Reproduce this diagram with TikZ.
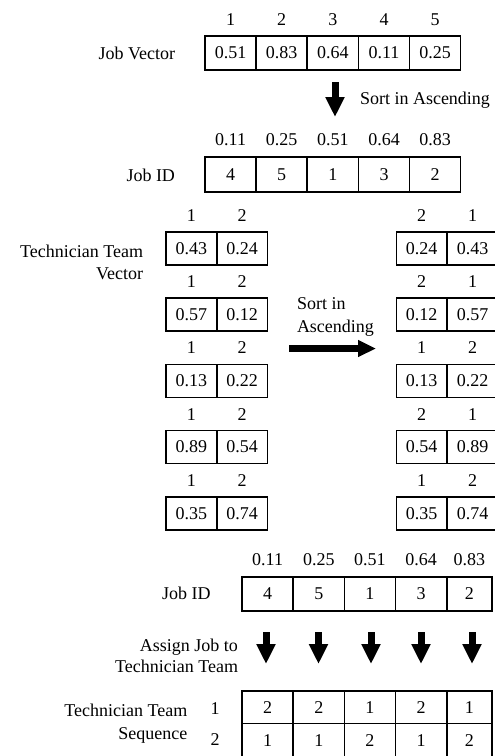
\documentclass[tikz,border=0pt]{standalone}
\usepackage{fontspec}
\setmainfont{Liberation Serif}
\usetikzlibrary{arrows.meta}
\begin{document}
\begin{tikzpicture}[x=1pt,y=-1pt,
  every node/.style={font=\fontsize{18}{21}\selectfont, inner sep=0pt, outer sep=0pt},
  cell/.style={draw, line width=1.6pt, minimum height=34pt, minimum width=51pt},
  tcell/.style={cell, minimum height=33pt, minimum width=50.8pt},
  blockarrow/.style={line width=7pt, -{Triangle[length=20pt,width=18pt]}},
  sidearrow/.style={line width=7pt, -{Triangle[length=18pt,width=16pt]}},
  lbl/.style={anchor=east, align=right},
]
\useasboundingbox (0,0) rectangle (495,756);
\clip (0,0) rectangle (495,756);

% ---- Job Vector ----
\node[lbl] (jvlbl) at (175,53) {Job Vector};
\foreach \i/\x/\v in {1/230.6/0.51, 2/281.7/0.83, 3/332.8/0.64, 4/384.0/0.11, 5/435.1/0.25}{
  \node[cell] (jv\i) at (\x,53) {\v};
  \node (jvh\i) at (\x,20) {\i};
}
\coordinate (a1s) at (335,82);
\coordinate (a1e) at (335,117);
\draw[blockarrow] (a1s) -- (a1e);
\node[anchor=west] (sort1) at (360,100) {Sort in Ascending};

% ---- Job ID (top) ----
\node[lbl] (jidlbl) at (175,175) {Job ID};
\foreach \i/\x/\h/\v in {1/230.6/0.11/4, 2/281.7/0.25/5, 3/332.8/0.51/1, 4/384.0/0.64/3, 5/435.1/0.83/2}{
  \node[cell, minimum height=35pt] (jid\i) at (\x,174.5) {\v};
  \node (jidh\i) at (\x,140) {\h};
}

% ---- Technician Team Vector ----
\node[lbl, align=right, font=\fontsize{18}{22}\selectfont] (ttv) at (143,262) {Technician Team\\Vector};
\foreach \k/\y/\la/\lb/\ra/\rb/\rha/\rhb in {
  1/248.2/0.43/0.24/0.24/0.43/2/1,
  2/314.5/0.57/0.12/0.12/0.57/2/1,
  3/380.8/0.13/0.22/0.13/0.22/1/2,
  4/447.1/0.89/0.54/0.54/0.89/2/1,
  5/513.4/0.35/0.74/0.35/0.74/1/2}{
  \node[tcell] (L\k a) at (191.3,\y) {\la};
  \node[tcell] (L\k b) at (242.0,\y) {\lb};
  \node (L\k ha) at (191.3,\y-33) {1};
  \node (L\k hb) at (242.0,\y-33) {2};
  \node[tcell] (R\k a) at (421.7,\y) {\ra};
  \node[tcell] (R\k b) at (472.6,\y) {\rb};
  \node (R\k ha) at (421.7,\y-33) {\rha};
  \node (R\k hb) at (472.6,\y-33) {\rhb};
}
\node[anchor=west, align=left, font=\fontsize{18}{23}\selectfont] (sort2) at (297,316.5) {Sort in\\Ascending};
\coordinate (a2s) at (289,348.5);
\coordinate (a2e) at (376,348.5);
\draw[sidearrow] (a2s) -- (a2e);

% ---- Job ID (bottom) ----
\node[lbl] (jid2lbl) at (210.7,593) {Job ID};
\foreach \i/\x/\w/\h/\v in {1/267.6/51.3/0.11/4, 2/318.8/51/0.25/5, 3/369.8/51/0.51/1, 4/421.0/51.4/0.64/3, 5/469.4/45.4/0.83/2}{
  \node[cell, minimum height=34pt, minimum width=\w pt] (jb\i) at (\x,593.7) {\v};
  \node (jbh\i) at (\x,560) {\h};
}

% ---- Assign arrows ----
\node[lbl, align=right, font=\fontsize{18}{20.5}\selectfont] (assign) at (238,656) {Assign Job to\\Technician Team};
\foreach \i/\x in {1/266, 2/318.5, 3/371, 4/421, 5/472}{
  \coordinate (as\i) at (\x,632);
  \coordinate (ae\i) at (\x,664);
  \draw[blockarrow] (as\i) -- (ae\i);
}

% ---- Technician Team Sequence ----
\node[lbl, align=right, font=\fontsize{18}{23}\selectfont] (tts) at (187.3,723.5) {Technician Team\\Sequence};
\node (r1) at (215,709) {1};
\node (r2) at (215,740) {2};
\foreach \i/\x/\w/\p/\q in {1/267.6/51.3/2/1, 2/318.8/51/2/1, 3/369.8/51/1/2, 4/421.0/51.4/2/1, 5/469.4/45.4/1/2}{
  \node[cell, minimum height=32.3pt, minimum width=\w pt] (s1\i) at (\x,707.2) {\p};
  \node[cell, minimum height=33.5pt, minimum width=\w pt] (s2\i) at (\x,740.1) {\q};
}
\end{tikzpicture}
\end{document}
